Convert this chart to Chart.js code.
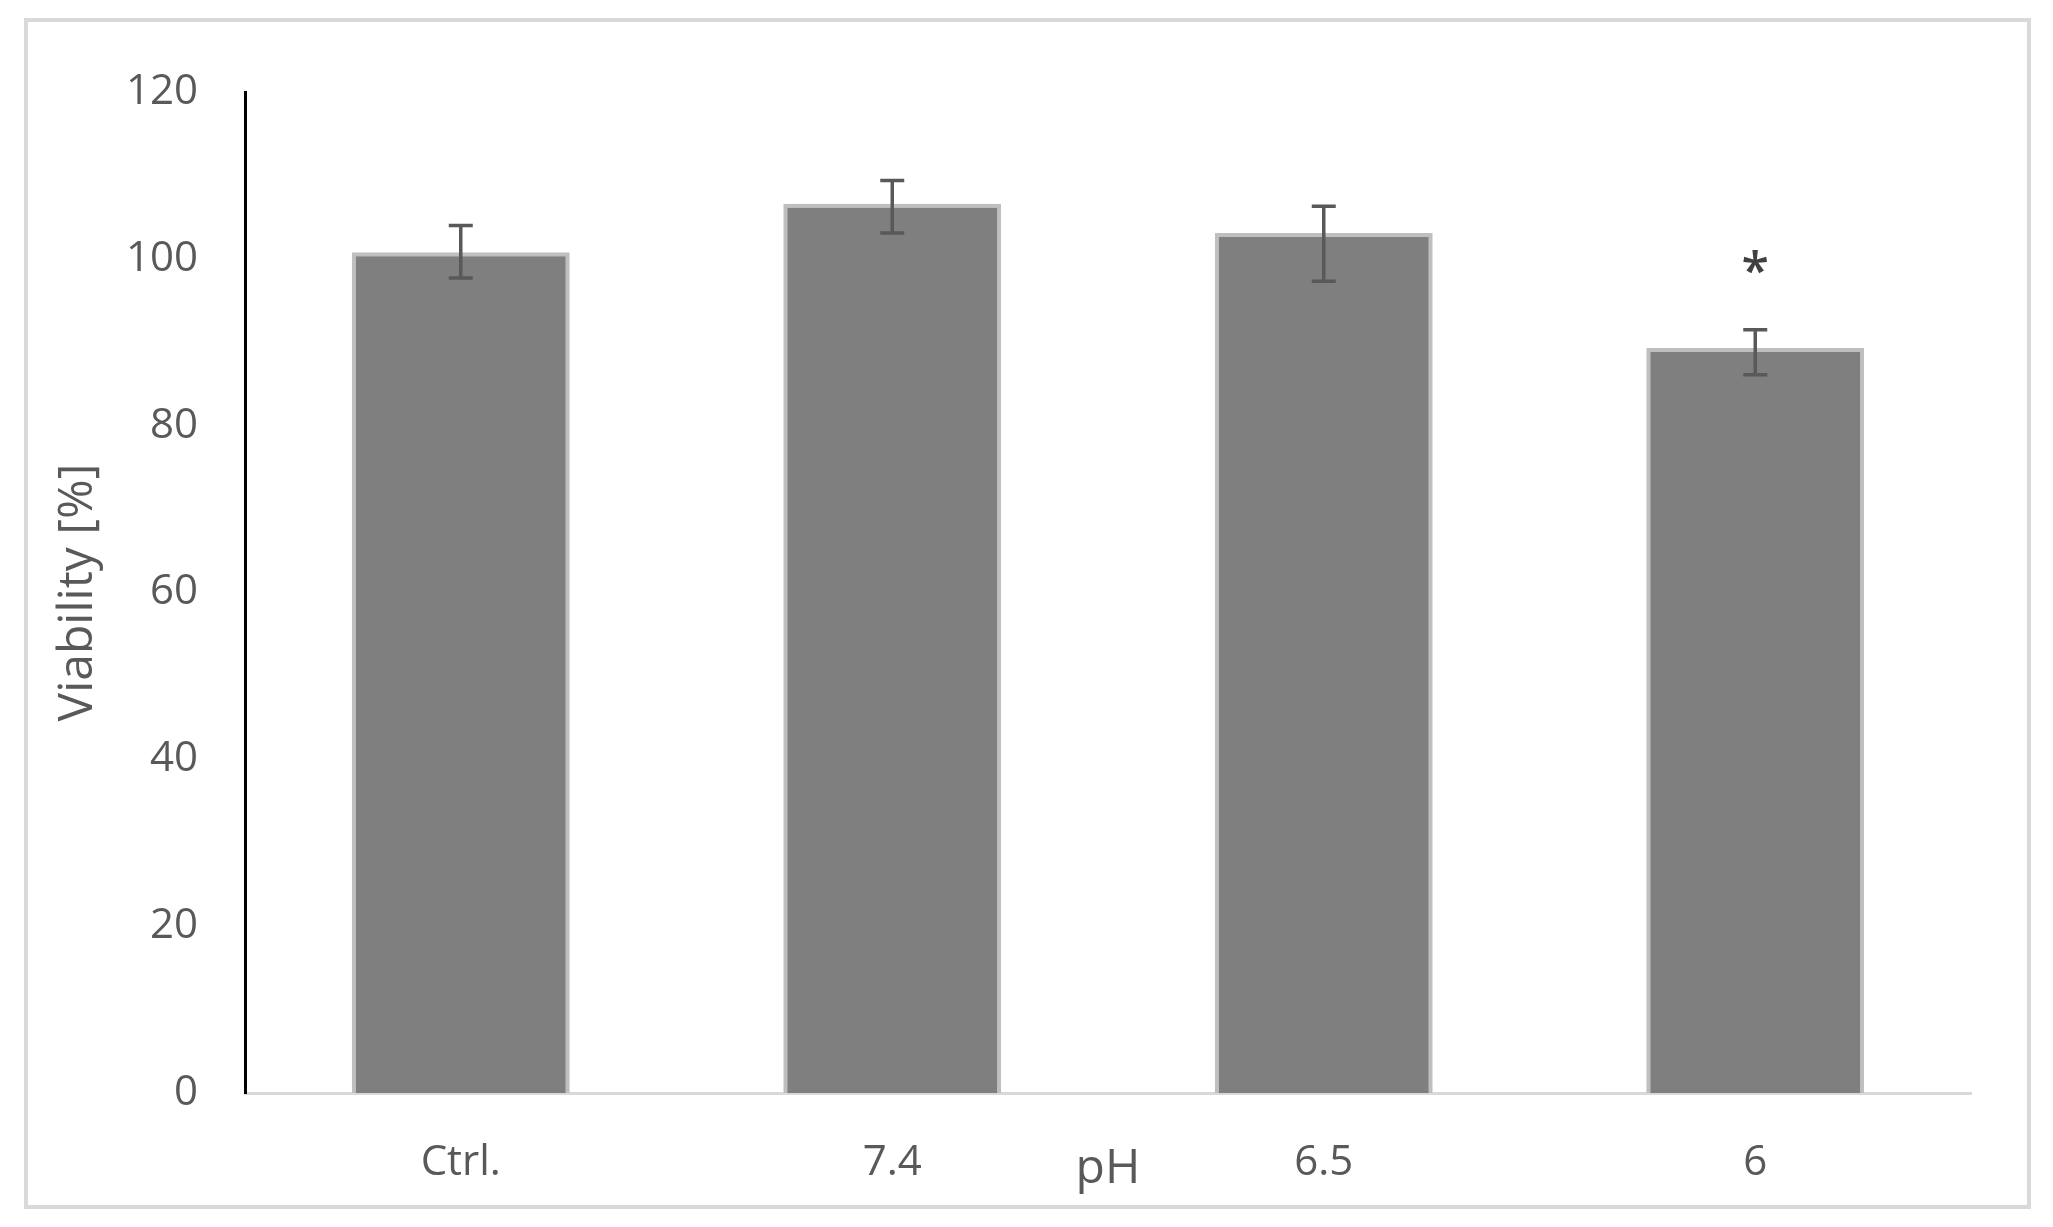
<!DOCTYPE html>
<html>
<head>
<meta charset="utf-8">
<script src="https://cdn.jsdelivr.net/npm/chart.js@4.4.1/dist/chart.umd.min.js"></script>
<style>
  html, body { margin: 0; padding: 0; background: #ffffff; }
  #wrap { position: relative; width: 2053px; height: 1227px; }
  canvas { display: block; }
</style>
</head>
<body>
<div id="wrap"><canvas id="c" width="2053" height="1227"></canvas></div>
<script>
// ---- data ----
const categories = ['Ctrl.', '7.4', '6.5', '6'];
const viability = [100.8, 106.6, 103.1, 89.3];
const errorPlus = [3.2, 2.8, 3.2, 2.2];
const errorMinus = [3.1, 3.5, 5.8, 3.2];
const significance = ['', '', '', '*'];
const yTicks = [0, 20, 40, 60, 80, 100, 120];
const xTitle = 'pH';
const yTitle = 'Viability [%]';

const FONT = "'Open Sans', 'Noto Sans', sans-serif";

const framePlugin = {
  id: 'frame',
  beforeDraw(chart) {
    const ctx = chart.ctx;
    ctx.save();
    ctx.fillStyle = '#ffffff';
    ctx.fillRect(0, 0, chart.width, chart.height);
    ctx.strokeStyle = '#d9d9d9';
    ctx.lineWidth = 4;
    ctx.strokeRect(26, 20, 2003, 1187);
    ctx.restore();
  }
};

const errorBarPlugin = {
  id: 'errorBars',
  afterDatasetsDraw(chart) {
    const ctx = chart.ctx;
    const meta = chart.getDatasetMeta(0);
    const y = chart.scales.y;
    ctx.save();
    ctx.strokeStyle = '#595959';
    ctx.lineWidth = 3.5;
    ctx.lineCap = 'butt';
    meta.data.forEach((bar, i) => {
      const x = bar.x;
      const top = y.getPixelForValue(viability[i] + errorPlus[i]);
      const bot = y.getPixelForValue(viability[i] - errorMinus[i]);
      const cap = 12;
      ctx.beginPath();
      ctx.moveTo(x, top); ctx.lineTo(x, bot);
      ctx.moveTo(x - cap, top); ctx.lineTo(x + cap, top);
      ctx.moveTo(x - cap, bot); ctx.lineTo(x + cap, bot);
      ctx.stroke();
      if (significance[i]) {
        ctx.fillStyle = '#404040';
        ctx.font = "600 50px " + FONT;
        ctx.textAlign = 'center';
        ctx.textBaseline = 'alphabetic';
        ctx.fillText(significance[i], x, top - 42);
      }
    });
    ctx.restore();
  }
};

new Chart(document.getElementById('c'), {
  type: 'bar',
  data: {
    labels: categories,
    datasets: [{
      data: viability,
      backgroundColor: '#7f7f7f',
      borderColor: '#bfbfbf',
      borderWidth: 4,
      borderSkipped: 'bottom',
      barPercentage: 0.505,
      categoryPercentage: 1.0
    }]
  },
  options: {
    responsive: false,
    animation: false,
    devicePixelRatio: 1,
    layout: { padding: { left: 0, right: 82, top: 92, bottom: 0 } },
    plugins: { legend: { display: false }, tooltip: { enabled: false } },
    scales: {
      x: {
        grid: { display: false, drawTicks: false },
        border: { display: true, color: '#d9d9d9', width: 3 },
        ticks: { color: '#595959', font: { family: FONT, size: 42 }, padding: 45 },
        title: {
          display: true, text: xTitle, color: '#595959',
          font: { family: FONT, size: 48 }, padding: { top: 0, bottom: 29 }
        },
        afterFit(scale) { scale.height = 134; }
      },
      y: {
        min: 0, max: 120,
        afterBuildTicks(scale) { scale.ticks = yTicks.map(v => ({ value: v })); },
        grid: { display: false, drawTicks: false },
        border: { display: true, color: '#000000', width: 3 },
        ticks: { color: '#595959', font: { family: FONT, size: 42 }, padding: 47 },
        title: {
          display: true, text: yTitle, color: '#595959',
          font: { family: FONT, size: 48 }, padding: { top: 50, bottom: 0 }
        },
        afterFit(scale) { scale.width = 245; }
      }
    }
  },
  plugins: [framePlugin, errorBarPlugin]
});
</script>
</body>
</html>
